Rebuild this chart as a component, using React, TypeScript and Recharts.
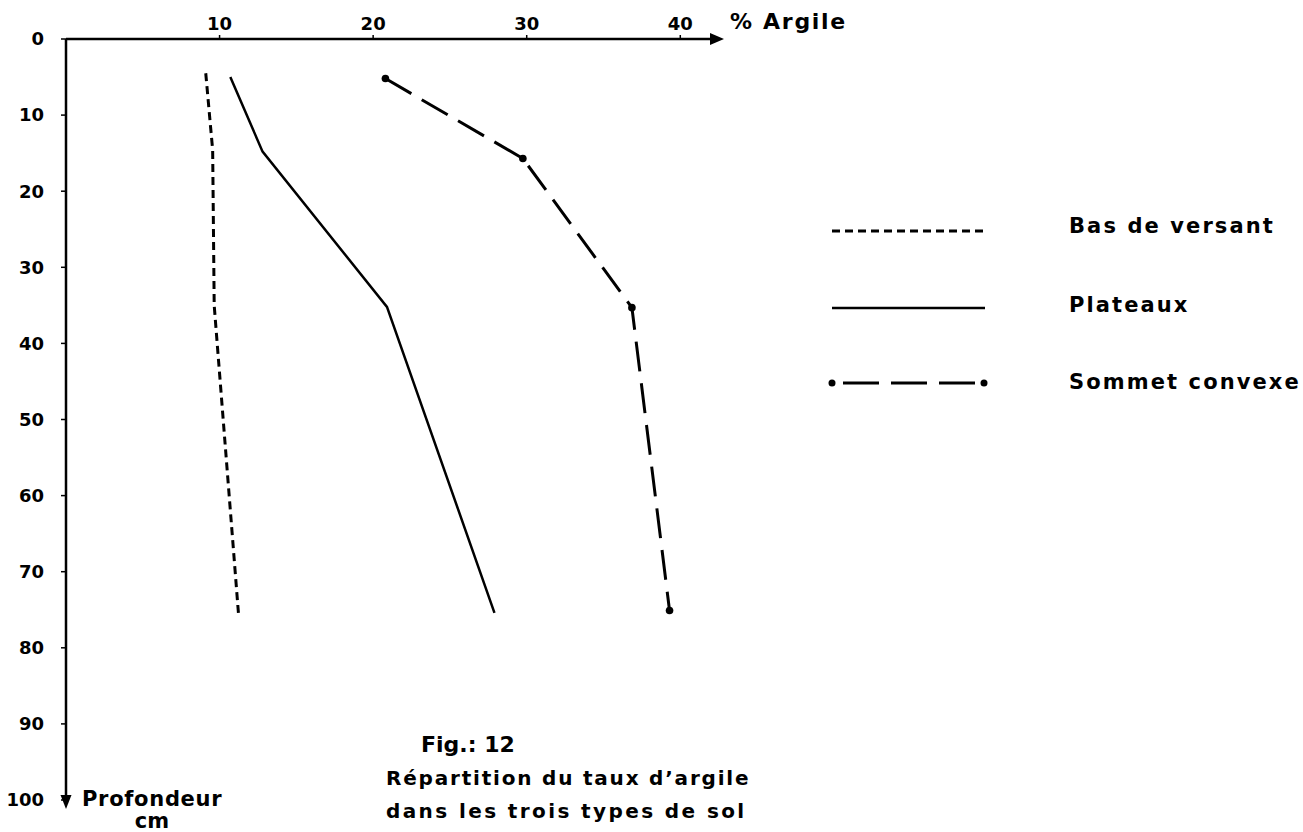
import React from "react";
import { LineChart, Line, XAxis, YAxis, Legend, ReferenceDot } from "recharts";

// % argile (x) against depth in cm (y, downwards)
const CLAY_TICKS = [10, 20, 30, 40];
const DEPTH_TICKS = [0, 10, 20, 30, 40, 50, 60, 70, 80, 90, 100];

const BAS_CLAY = [9.1, 9.55, 9.65, 11.25];
const BAS_DEPTH = [4.5, 14.6, 35, 76];

const PLATEAUX_CLAY = [10.7, 12.8, 20.9, 27.9];
const PLATEAUX_DEPTH = [5, 14.8, 35.2, 75.4];

const SOMMET_CLAY = [20.8, 29.75, 36.85, 39.3];
const SOMMET_DEPTH = [5.2, 15.7, 35.3, 75.1];

const toPoints = (clay: number[], depth: number[]) =>
    clay.map((c, i) => ({ clay: c, depth: depth[i] }));

const FONT = "'DejaVu Sans', sans-serif";

const SERIES = [
    { name: "Bas de versant", data: toPoints(BAS_CLAY, BAS_DEPTH), dash: "8 5", width: 3, dots: false },
    { name: "Plateaux", data: toPoints(PLATEAUX_CLAY, PLATEAUX_DEPTH), dash: undefined, width: 2.5, dots: false },
    { name: "Sommet convexe", data: toPoints(SOMMET_CLAY, SOMMET_DEPTH), dash: "30 12", width: 3, dots: true },
];

const RightArrow = (props: any) => {
    const { cx, cy } = props;
    if (cx == null || cy == null) return null;
    return <polygon points={`${cx - 1},${cy - 6} ${cx + 13},${cy} ${cx - 1},${cy + 6}`} fill="#000" />;
};

const DownArrow = (props: any) => {
    const { cx, cy } = props;
    if (cx == null || cy == null) return null;
    return <polygon points={`${cx - 5.5},${cy - 5} ${cx + 5.5},${cy - 5} ${cx},${cy + 9}`} fill="#000" />;
};

const renderLegend = (props: any) => {
    const { payload } = props;
    const rows = [31, 108, 183];
    return (
        <svg width={470} height={210} style={{ overflow: "visible" }}>
            {(payload || []).map((entry: any, i: number) => {
                const s = SERIES.find((x) => x.name === entry.value) || SERIES[i];
                const y = rows[i];
                return (
                    <g key={s.name}>
                        {s.dots ? (
                            <>
                                <circle cx={0} cy={y} r={3.5} fill="#000" />
                                <line x1={11} y1={y} x2={144} y2={y} stroke="#000" strokeWidth={3} strokeDasharray="36 12" />
                                <circle cx={152} cy={y} r={3.5} fill="#000" />
                            </>
                        ) : (
                            <line x1={0} y1={y} x2={153} y2={y} stroke="#000" strokeWidth={s.width} strokeDasharray={s.dash} />
                        )}
                        <text x={237} y={y + 2 + i * 2} fontFamily={FONT} fontWeight="bold" fontSize={21} letterSpacing={2.1} fill="#000">
                            {s.name}
                        </text>
                    </g>
                );
            })}
        </svg>
    );
};

export default function App() {
    return (
        <div style={{ position: "absolute", left: 0, top: 0, width: 1303, height: 832, background: "#fff" }}>
            <LineChart width={1303} height={832} margin={{ top: 0, right: 592, bottom: 32, left: 0 }}>
                <XAxis
                    xAxisId="clay"
                    type="number"
                    dataKey="clay"
                    orientation="top"
                    domain={[0, 42]}
                    ticks={CLAY_TICKS}
                    height={39}
                    tickSize={4}
                    tickMargin={5}
                    allowDataOverflow
                    axisLine={{ stroke: "#000", strokeWidth: 2.5 }}
                    tickLine={{ stroke: "#000", strokeWidth: 1.5 }}
                    tick={{ fill: "#000", fontFamily: FONT, fontWeight: "bold", fontSize: 18 }}
                />
                <YAxis
                    yAxisId="depth"
                    type="number"
                    dataKey="depth"
                    reversed
                    domain={[0, 100]}
                    ticks={DEPTH_TICKS}
                    width={66}
                    tickSize={5}
                    tickMargin={17}
                    interval={0}
                    allowDataOverflow
                    axisLine={{ stroke: "#000", strokeWidth: 2.5 }}
                    tickLine={{ stroke: "#000", strokeWidth: 1.5 }}
                    tick={{ fill: "#000", fontFamily: FONT, fontWeight: "bold", fontSize: 18 }}
                />
                {SERIES.map((s) => (
                    <Line
                        key={s.name}
                        xAxisId="clay"
                        yAxisId="depth"
                        name={s.name}
                        data={s.data}
                        dataKey="depth"
                        type="linear"
                        stroke="#000"
                        strokeWidth={s.width}
                        strokeDasharray={s.dash}
                        dot={s.dots ? { r: 3.8, fill: "#000", stroke: "none" } : false}
                        activeDot={false}
                        isAnimationActive={false}
                    />
                ))}
                <ReferenceDot xAxisId="clay" yAxisId="depth" x={42} y={0} ifOverflow="visible" shape={RightArrow} />
                <ReferenceDot xAxisId="clay" yAxisId="depth" x={0} y={100} ifOverflow="visible" shape={DownArrow} />
                <Legend
                    layout="horizontal"
                    verticalAlign="middle"
                    align="center"
                    content={renderLegend}
                    wrapperStyle={{ position: "absolute", left: 832, top: 200, width: 470, height: 210 }}
                />
                <text x={730} y={29} fontFamily={FONT} fontWeight="bold" fontSize={22} letterSpacing={1.7} fill="#000">
                    % Argile
                </text>
                <text x={82} y={806} fontFamily={FONT} fontWeight="bold" fontSize={21} letterSpacing={0.7} fill="#000">
                    Profondeur
                </text>
                <text x={152} y={828} textAnchor="middle" fontFamily={FONT} fontWeight="bold" fontSize={21} fill="#000">
                    cm
                </text>
                <text x={421} y={752} fontFamily={FONT} fontWeight="bold" fontSize={22} fill="#000">
                    Fig.: 12
                </text>
                <text x={386} y={785} fontFamily={FONT} fontWeight="bold" fontSize={20} letterSpacing={1.8} fill="#000">
                    Répartition du taux d’argile
                </text>
                <text x={386} y={818} fontFamily={FONT} fontWeight="bold" fontSize={20} letterSpacing={2.4} fill="#000">
                    dans les trois types de sol
                </text>
            </LineChart>
        </div>
    );
}
